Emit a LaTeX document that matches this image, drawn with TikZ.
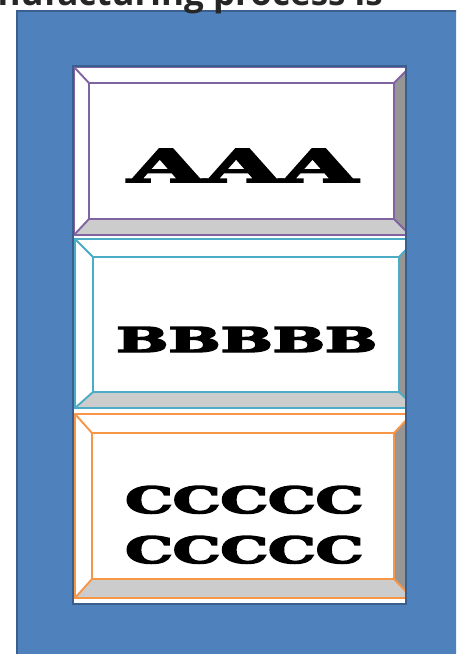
\documentclass[tikz,border=0pt]{standalone}
\usepackage{fontspec}
\setmainfont{DejaVu Serif}
\newfontfamily\titlefont{Open Sans}
\newfontfamily\heavyfont[FakeBold=4]{DejaVu Serif Bold}
\definecolor{bgblue}{HTML}{4F81BD}
\definecolor{bgborder}{HTML}{3A5F8E}
\definecolor{cpurple}{HTML}{8064A2}
\definecolor{ccyan}{HTML}{4BACC6}
\definecolor{corange}{HTML}{F79646}
\definecolor{bevlight}{HTML}{CCCCCC}
\definecolor{bevdark}{HTML}{969696}
\definecolor{titlegray}{HTML}{262626}
\newcommand\bevelbox[9]{%
  \fill[white] (#2,#3) rectangle (#4,#5);
  \fill[bevlight] (#2,#5) -- (#4,#5) -- (#8,#9) -- (#6,#9) -- cycle;
  \fill[bevdark] (#4,#3) -- (#4,#5) -- (#8,#9) -- (#8,#7) -- cycle;
  \draw[edge=#1] (#2,#3) rectangle (#4,#5);
  \draw[edge=#1] (#6,#7) rectangle (#8,#9);
  \draw[edge=#1] (#2,#3) -- (#6,#7) (#4,#3) -- (#8,#7) (#2,#5) -- (#6,#9) (#4,#5) -- (#8,#9);
}
\begin{document}
\begin{tikzpicture}[x=1pt,y=-1pt,
  edge/.style={draw=#1,line width=1.9pt,line join=miter},
  bigtext/.style={anchor=base west,inner sep=0pt,text=black},
  panel/.style={draw=bgborder,line width=2pt}]
\useasboundingbox (0,0) rectangle (456,654);
\begin{scope}
\clip (0,0) rectangle (456,654);
\filldraw[fill=bgblue,panel] (17,11) rectangle (470,670);
\node[anchor=base east,inner sep=0pt,text=titlegray] (title) at (383,5.5)
  {\resizebox{385pt}{!}{\titlefont\bfseries nufacturing process is}};
\fill[white] (73,66) rectangle (406,604);
\begin{scope}
\clip (74,67) rectangle (405,603);
\bevelbox{cpurple}{74}{67}{410}{235}{89}{83}{394}{219}
\bevelbox{ccyan}{75}{239}{416}{408}{93}{257}{399}{392}
\bevelbox{corange}{75}{414}{412}{598}{92}{433}{394}{579}
\end{scope}
\draw[panel] (73,66) rectangle (406,604);
\node[bigtext] (ta) at (128,182) {\resizebox{229pt}{33pt}{\heavyfont AAA}};
\node[bigtext] (tb) at (116,352) {\resizebox{261pt}{25pt}{\heavyfont BBBBB}};
\node[bigtext] (tc1) at (125,513) {\resizebox{238pt}{27pt}{\heavyfont CCCCC}};
\node[bigtext] (tc2) at (125,563) {\resizebox{238pt}{27pt}{\heavyfont CCCCC}};
\end{scope}
\end{tikzpicture}
\end{document}
